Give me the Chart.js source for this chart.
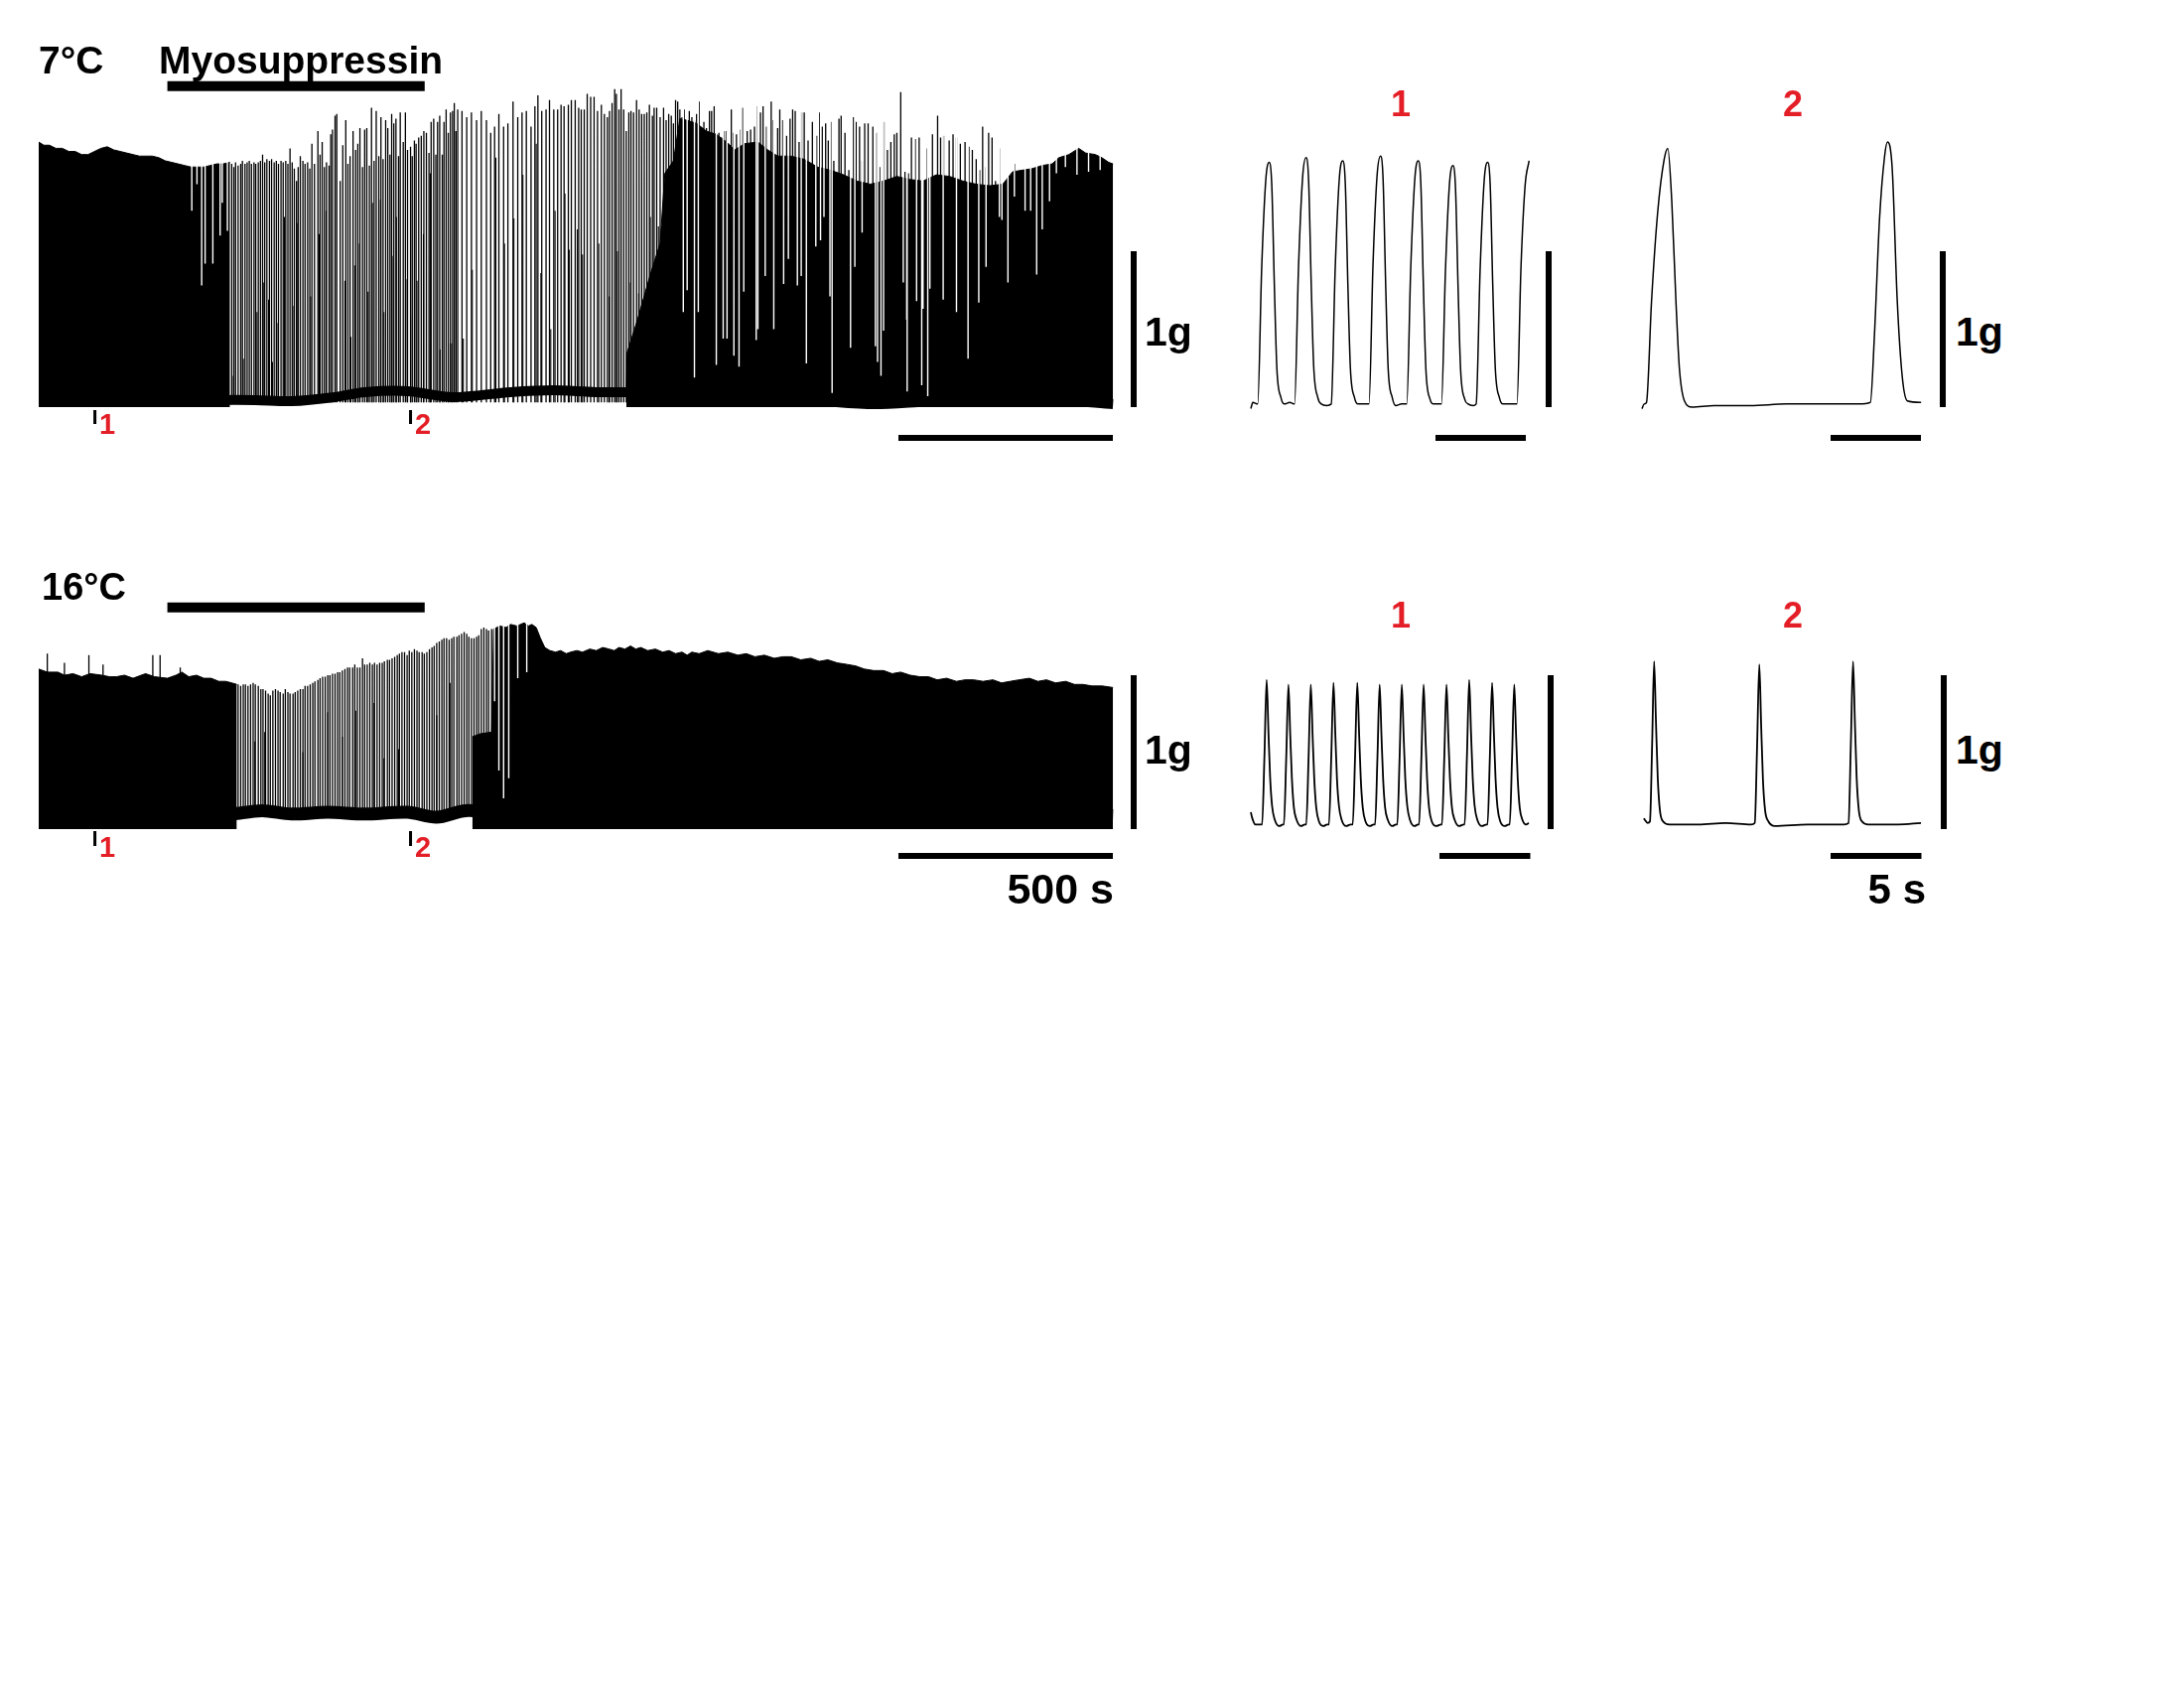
<!DOCTYPE html>
<html><head><meta charset="utf-8">
<script src="https://cdn.jsdelivr.net/npm/chart.js@4.4.1/dist/chart.umd.min.js"></script>
<style>
html,body{margin:0;padding:0;background:#fff;}
#page{position:relative;width:2200px;height:1700px;background:#fff;overflow:hidden;font-family:"Liberation Sans",Arial,sans-serif;font-weight:bold;}
canvas{position:absolute;}
.t{position:absolute;white-space:nowrap;line-height:1;color:#000;}
.r{color:#e41e26;}
.c{width:100px;text-align:center;}
</style></head><body><div id="page">
<canvas id="long7"></canvas><canvas id="long16"></canvas>
<canvas id="in7a"></canvas><canvas id="in7b"></canvas>
<canvas id="in16a"></canvas><canvas id="in16b"></canvas>
<div class="t" style="left:39px;top:41px;font-size:39px">7°C</div>
<div class="t" style="left:160px;top:41px;font-size:39px">Myosuppressin</div>
<div class="t" style="left:42px;top:572px;font-size:38px">16°C</div>
<div class="t" style="left:1153px;top:314px;font-size:41px">1g</div>
<div class="t" style="left:1153px;top:735px;font-size:41px">1g</div>
<div class="t" style="left:1970px;top:314px;font-size:41px">1g</div>
<div class="t" style="left:1970px;top:735px;font-size:41px">1g</div>
<div class="t" style="right:1078px;top:874px;font-size:43px">500 s</div>
<div class="t" style="right:260px;top:875px;font-size:42px">5 s</div>
<div class="t r c" style="left:1361px;top:87px;font-size:36px">1</div>
<div class="t r c" style="left:1756px;top:87px;font-size:36px">2</div>
<div class="t r c" style="left:1361px;top:602px;font-size:36px">1</div>
<div class="t r c" style="left:1756px;top:602px;font-size:36px">2</div>
<div class="t r" style="left:100px;top:413px;font-size:29px">1</div>
<div class="t r" style="left:418px;top:413px;font-size:29px">2</div>
<div class="t r" style="left:100px;top:839px;font-size:29px">1</div>
<div class="t r" style="left:418px;top:839px;font-size:29px">2</div>
</div>
<script>
// ===================== DATA (time in s, force in g) =====================
const drugT = [300, 900];            // myosuppressin application
const markerT = [131, 867];          // times of insets 1 and 2
const scaleG = 1, scaleLongS = 500, scaleInsetS = 5;

// ---- 7 °C long trace ----
const base7T = [0,80,165,250,320,420,505,590,690,760,860,965,1100,1200,1300,1440,1525,1605,1745,1860,1950,2050,2115,2250,2370,2505];
const base7G = [0.085,0.064,0.077,0.045,0.032,0.045,0.045,0.038,0.064,0.096,0.102,0.064,0.096,0.108,0.096,0.096,0.102,0.083,0.064,0.032,0.019,0.032,0.045,0.032,0.045,0.019];
const envA7T = [0,12,25,40,55,70,85,100,115,130,145,160,175,190,205,220,235,250,265,280,295,310,325,340,355,370,385,400,415,430,446];
const envA7G = [1.70,1.68,1.68,1.66,1.66,1.64,1.64,1.62,1.62,1.64,1.66,1.67,1.65,1.64,1.63,1.62,1.61,1.61,1.61,1.60,1.58,1.57,1.56,1.55,1.54,1.54,1.54,1.55,1.56,1.56,1.57];
const envC7T = [1370,1372,1395,1426,1449,1460,1480,1495,1511,1534,1557,1580,1604,1623,1646,1677,1700,1723,1754,1785,1816,1846,1877,1908,1939,1970,2001,2032,2062,2093,2124,2155,2186,2217,2248,2271,2294,2317,2340,2363,2379,2402,2425,2441,2464,2479,2495,2505];
const envC7G = [0.10,0.35,0.55,0.85,1.05,1.50,1.58,1.85,1.84,1.82,1.77,1.75,1.70,1.65,1.69,1.70,1.65,1.61,1.61,1.59,1.54,1.52,1.49,1.45,1.43,1.45,1.48,1.46,1.45,1.49,1.48,1.45,1.43,1.42,1.43,1.51,1.52,1.53,1.55,1.56,1.60,1.62,1.66,1.63,1.62,1.60,1.57,1.56];
const spike7T = [450,455,459,465,471,475,481,486,491,496,502,506,512,517,522,527,532,538,543,549,554,559,565,570,576,581,586,591,596,601,605,610,616,621,627,632,637,643,651,656,661,666,671,677,681,685,691,695,703,709,716,721,726,733,739,744,749,755,760,765,771,776,782,787,793,798,803,809,814,819,823,828,833,839,843,850,855,860,867,871,876,880,886,892,898,904,910,915,921,926,930,935,941,945,950,955,960,965,969,973,
977,987,998,1009,1021,1032,1044,1054,1063,1073,1084,1094,1106,1117,1127,1137,1148,1157,1164,1173,1183,1191,1201,1210,1218,1225,1235,1242,1251,1259,1265,1272,1279,1287,1295,1303,1312,1319,1326,1331,1337,1343,1347,1353,1358,1364,1370,1376,1381,1387,1394,1400,1406,1412,1418,1424,1431,1435,1441,1449,1457,1463,1469,1475,1480,1485,1490,1495,1500,1505,1511,1517,1523,1529,1534,1540,1546,1551,1557,1564,1569,1575,1580,1586,1592,1597,
1603,1609,1615,1620,1627,1634,1642,1652,1660,1669,1674,1683,1689,1696,1708,1713,1723,1728,1735,1744,1752,1758,1764,1773,1779,1785,1794,1804,1814,1821,1827,1835,1841,1848,1854,1866,1871,1880,1889,1900,1906,1914,1920,1926,1934,1945,1954,1962,1971,1979,1987,1995,2001,2010,2020,2028,2035,2045,2053,2061,2072,2084,2096,2103,2110,2123,2132,2140,2149,2160,2169,2177,2186,2194,2201,2209,2215,2223,2231,2240,2276];
const spike7G = [1.56,1.54,1.57,1.55,1.56,1.58,1.56,1.57,1.58,1.56,1.57,1.56,1.57,1.58,1.62,1.57,1.59,1.58,1.59,1.57,1.58,1.56,1.58,1.57,1.58,1.56,1.66,1.57,1.53,1.45,1.54,1.61,1.58,1.56,1.57,1.53,1.69,1.56,1.77,1.62,1.70,1.54,1.57,1.55,1.75,1.78,1.87,1.88,1.45,1.68,1.84,1.56,1.61,1.77,1.65,1.69,1.79,1.54,1.78,1.79,1.55,1.92,1.58,1.90,1.61,1.86,1.59,1.84,1.79,1.62,1.88,1.82,1.85,1.61,1.89,1.70,1.89,1.65,1.67,1.61,1.71,1.69,1.73,1.74,1.77,1.76,1.63,1.83,1.85,1.62,1.83,1.87,1.62,1.83,1.91,1.76,1.89,1.90,1.95,1.77,
1.91,1.90,1.86,1.89,1.84,1.90,1.84,1.76,1.80,1.88,1.80,1.82,1.96,1.86,1.89,1.90,1.80,1.93,2.00,1.90,1.91,1.97,1.91,1.91,1.94,1.93,1.94,1.97,1.97,1.92,1.91,1.91,2.01,1.99,1.99,1.90,1.94,1.88,1.86,1.90,1.95,2.04,2.01,1.91,2.04,1.91,1.77,1.89,1.90,1.89,1.97,1.91,1.88,1.88,1.89,1.94,1.87,1.92,1.92,1.86,1.92,1.84,1.88,1.87,1.82,1.97,1.96,1.91,1.86,1.91,1.83,1.90,1.86,1.84,1.88,1.96,1.79,1.83,1.79,1.90,1.90,1.93,1.75,1.76,1.73,1.77,
1.77,1.69,1.91,1.76,1.75,1.78,1.92,1.77,1.78,1.80,1.93,1.89,1.93,1.80,1.96,1.84,1.79,1.91,1.84,1.74,1.85,1.91,1.90,1.70,1.89,1.89,1.71,1.83,1.74,1.89,1.80,1.82,1.71,1.83,1.58,1.85,1.87,1.76,1.52,1.86,1.83,1.80,1.58,1.82,1.82,1.80,1.76,1.54,1.83,1.65,1.70,1.75,1.76,2.02,1.51,1.50,1.73,1.72,1.73,1.65,1.66,1.75,1.87,1.73,1.74,1.71,1.75,1.73,1.69,1.70,1.67,1.65,1.59,1.52,1.80,1.54,1.76,1.73,1.45,1.66,1.56];
const short7T = [454,477,509,525,536,545,558,573,595,604,634,654,670,714,728,737,745,768,778,797,805,824,834,859,867,882,897,913,936,955,963,990,1011,1066,1086,1108,1129,1160,1171,1194,1204,1227,1237,1256,1268,1306,1330,1349,1380,1399,1426,1445];
const short7G = [0.20,0.31,0.61,0.80,0.69,0.29,0.54,1.22,0.65,1.18,0.71,1.11,1.26,0.81,0.45,0.91,1.05,0.74,1.31,1.33,0.61,0.97,1.22,0.82,0.58,0.81,1.11,1.50,0.37,0.41,0.41,0.44,0.88,1.60,1.05,1.21,1.49,1.69,0.86,0.50,1.26,1.37,1.01,1.14,0.98,1.05,0.71,1.00,0.80,0.73,1.22,1.16];
const gap7T = [357,369,380,388,406,423,428,440,1503,1512,1529,1538,1580,1596,1605,1621,1633,1644,1673,1677,1694,1714,1737,1748,1769,1778,1790,1812,1823,1831,1845,1850,1893,1903,1920,1951,1956,1964,1970,2016,2024,2025,2047,2059,2062,2073,2078,2109,2140,2167,2192,2209,2240,2246,2260,2275,2300,2313,2327,2340,2357,2373,2394,2421,2448,2475];
const gap7G = [1.26,1.43,0.78,0.92,0.92,1.10,1.31,1.13,0.61,0.75,0.19,0.61,0.27,0.44,0.44,0.33,0.26,0.74,0.43,0.50,0.84,0.50,0.79,0.95,0.78,0.84,0.28,1.03,1.07,1.22,0.71,0.09,0.38,0.90,1.12,0.39,0.29,0.20,0.49,0.80,0.56,0.10,0.68,0.14,0.63,0.07,0.76,0.69,0.61,0.31,0.67,0.90,1.22,1.20,0.80,1.35,1.26,1.26,0.85,1.14,1.32,1.50,1.54,1.49,1.51,1.52];

// ---- 16 °C long trace ----
const base16T = [0,79,130,181,249,317,385,453,521,589,674,759,860,928,996,1098,1200,1268,1353,1438,1523,1607,1692,1777,1828,1879,1947,2032,2117,2202,2286,2371,2505];
const base16G = [0.087,0.066,0.077,0.098,0.087,0.109,0.077,0.098,0.120,0.098,0.109,0.098,0.109,0.077,0.120,0.098,0.077,0.109,0.098,0.087,0.098,0.109,0.098,0.120,0.141,0.109,0.098,0.087,0.098,0.077,0.066,0.098,0.087];
const envA16T = [0,20,45,60,80,100,120,147,165,181,200,220,249,270,300,320,334,350,368,385,402,420,436,450,462];
const envA16G = [1.04,1.02,1.02,1.00,1.01,0.99,1.01,1.00,0.99,0.99,1.00,0.98,1.01,0.99,0.98,1.00,1.02,0.99,1.00,0.98,0.98,0.96,0.96,0.95,0.94];
const envC16T = [1011,1030,1056,1061,1075,1090,1100,1115,1132,1142,1150,1160,1170,1180,1192,1205,1217,1230,1240,1255,1268,1285,1300,1315,1330,1342,1353,1367,1380,1392,1404,1420,1438,1455,1470,1485,1500,1512,1523,1540,1560,1585,1607,1630,1650,1670,1692,1715,1735,1755,1777,1800,1820,1840,1862,1885,1905,1925,1947,1970,1990,2010,2032,2055,2075,2095,2117,2140,2160,2180,2202,2225,2245,2265,2286,2310,2330,2350,2371,2395,2415,2435,2456,2480,2505];
const envC16G = [0.60,0.62,0.63,1.30,1.32,1.31,1.33,1.32,1.34,1.32,1.33,1.31,1.24,1.18,1.16,1.15,1.16,1.14,1.15,1.16,1.15,1.17,1.16,1.18,1.17,1.16,1.18,1.17,1.19,1.17,1.18,1.16,1.17,1.15,1.16,1.14,1.15,1.13,1.15,1.14,1.16,1.14,1.15,1.13,1.14,1.12,1.13,1.11,1.12,1.12,1.10,1.11,1.09,1.10,1.08,1.07,1.06,1.04,1.03,1.03,1.01,1.02,1.00,0.99,0.99,0.97,0.98,0.96,0.97,0.97,0.96,0.97,0.95,0.96,0.97,0.98,0.96,0.97,0.95,0.96,0.94,0.94,0.93,0.93,0.92];
const spike16T = [20,60,117,150,266,283,330,465,471,477,482,488,494,500,505,512,518,523,529,535,540,546,552,558,563,570,575,581,586,593,598,604,610,616,621,627,633,639,644,651,656,662,668,674,679,685,691,697,702,708,714,720,725,732,737,743,749,755,760,766,772,778,783,789,795,801,806,813,818,824,830,836,841,847,853,859,864,870,876,882,887,894,899,905,911,917,922,928,934,940,945,951,957,963,968,975,980,986,992,998,1003,1009,1015,1021,1026,1032,1038,1044,1049,1056,1061];
const spike16G = [1.14,1.08,1.13,1.07,1.13,1.13,1.05,0.94,0.93,0.94,0.94,0.93,0.94,0.95,0.94,0.93,0.91,0.91,0.90,0.88,0.87,0.90,0.91,0.90,0.89,0.88,0.91,0.89,0.88,0.88,0.89,0.90,0.91,0.91,0.93,0.93,0.94,0.95,0.96,0.97,0.98,0.99,0.99,1.00,1.00,1.01,1.01,1.02,1.02,1.03,1.04,1.05,1.05,1.05,1.07,1.05,1.05,1.11,1.07,1.07,1.08,1.07,1.08,1.07,1.08,1.08,1.09,1.10,1.10,1.11,1.12,1.13,1.14,1.15,1.15,1.13,1.16,1.15,1.17,1.16,1.15,1.15,1.14,1.15,1.17,1.18,1.19,1.21,1.22,1.23,1.24,1.24,1.23,1.24,1.25,1.25,1.26,1.27,1.28,1.27,1.25,1.24,1.24,1.25,1.26,1.30,1.31,1.30,1.29,1.30,1.30];
const short16T = [504,527,616,674,708,739,782,805,839,928,959];
const short16G = [0.57,0.63,0.50,0.76,0.60,0.77,0.82,0.46,0.52,0.74,0.95];
const gap16T = [1063,1073,1084,1096,1117,1138];
const gap16G = [0.83,0.38,0.20,0.33,0.98,1.02];

// ---- insets (time from start of excerpt, s) ----
const in7aT = [0.00,0.11,0.38,0.60,0.83,1.02,1.16,1.30,1.44,1.67,1.86,2.15,2.42,2.64,2.87,3.06,3.20,3.34,3.48,3.71,3.90,4.20,4.45,4.67,4.90,5.09,5.23,5.37,5.51,5.74,5.93,6.25,6.54,6.76,6.99,7.18,7.32,7.46,7.60,7.83,8.02,8.35,8.63,8.85,9.08,9.27,9.41,9.55,9.69,9.92,10.11,10.35,10.55,10.77,11.00,11.19,11.33,11.47,11.61,11.84,12.03,12.30,12.47,12.69,12.92,13.11,13.25,13.39,13.53,13.76,13.95,14.45,14.73,14.95,15.18,15.40];
const in7aG = [-0.01,0.03,0.02,0.89,1.46,1.57,1.42,0.79,0.25,0.06,0.02,0.03,0.02,0.90,1.48,1.60,1.45,0.80,0.26,0.06,0.02,0.01,0.02,0.89,1.47,1.58,1.43,0.79,0.25,0.06,0.02,0.02,0.02,0.91,1.49,1.61,1.46,0.80,0.25,0.06,0.01,0.02,0.02,0.89,1.47,1.58,1.43,0.78,0.24,0.05,0.02,0.02,0.02,0.87,1.44,1.55,1.40,0.77,0.24,0.05,0.02,0.01,0.02,0.88,1.46,1.57,1.42,0.78,0.25,0.06,0.02,0.02,0.02,0.89,1.42,1.58];
const in7bT = [0.00,0.12,0.25,0.53,0.87,1.23,1.43,1.65,1.88,2.07,2.35,2.77,4.00,6.00,8.00,10.00,12.00,12.64,12.87,13.15,13.43,13.59,13.85,14.13,14.41,14.69,15.45];
const in7bG = [-0.01,0.02,0.03,0.68,1.25,1.59,1.66,1.32,0.68,0.25,0.04,0.00,0.01,0.01,0.02,0.02,0.02,0.03,0.47,1.21,1.61,1.70,1.53,0.68,0.19,0.04,0.03];
const in16aT = [0.00,0.08,0.25,
0.62,0.75,0.87,0.97,1.06,1.17,1.32,1.57,1.77,
1.82,1.95,2.07,2.17,2.26,2.37,2.52,2.77,2.97,
3.05,3.18,3.30,3.40,3.49,3.60,3.75,4.00,4.20,
4.30,4.43,4.55,4.65,4.74,4.85,5.00,5.25,5.50,
5.61,5.74,5.86,5.96,6.05,6.16,6.31,6.56,6.76,
6.84,6.97,7.09,7.19,7.28,7.39,7.54,7.79,7.99,
8.06,8.19,8.31,8.41,8.50,8.61,8.76,9.01,9.21,
9.26,9.39,9.51,9.61,9.70,9.81,9.96,10.21,10.47,
10.52,10.65,10.77,10.87,10.96,11.07,11.22,11.47,11.72,
11.77,11.90,12.02,12.12,12.21,12.32,12.47,12.72,12.98,
13.03,13.16,13.28,13.38,13.47,13.58,13.73,13.98,14.20,
14.25,14.38,14.50,14.60,14.69,14.80,14.95,15.15,15.30];
const in16aG = [0.11,0.07,0.03,
0.03,0.48,0.97,0.63,0.34,0.15,0.06,0.02,0.03,
0.03,0.47,0.94,0.61,0.33,0.14,0.06,0.02,0.03,
0.03,0.47,0.94,0.61,0.33,0.14,0.05,0.02,0.03,
0.03,0.48,0.95,0.62,0.33,0.15,0.06,0.02,0.03,
0.03,0.48,0.95,0.62,0.33,0.14,0.05,0.02,0.03,
0.03,0.47,0.94,0.61,0.33,0.14,0.06,0.02,0.03,
0.03,0.47,0.94,0.61,0.33,0.15,0.06,0.02,0.03,
0.03,0.47,0.94,0.61,0.33,0.14,0.05,0.02,0.03,
0.03,0.47,0.94,0.61,0.33,0.14,0.06,0.02,0.03,
0.03,0.49,0.97,0.63,0.34,0.15,0.06,0.02,0.03,
0.03,0.48,0.95,0.62,0.33,0.14,0.05,0.02,0.03,
0.03,0.47,0.94,0.61,0.33,0.14,0.06,0.03,0.04];
const in16bT = [0.00,0.05,0.20,0.33,0.45,0.56,0.66,0.76,0.88,1.05,1.40,3.00,4.50,5.90,6.10,6.23,6.35,6.45,6.55,6.67,6.85,7.20,9.00,11.00,11.26,11.39,11.51,11.61,11.71,11.83,12.00,12.35,14.00,15.25];
const in16bG = [0.07,0.06,0.04,0.05,0.55,1.09,0.70,0.33,0.12,0.05,0.03,0.03,0.04,0.03,0.04,0.55,1.07,0.68,0.32,0.12,0.05,0.02,0.03,0.03,0.04,0.56,1.09,0.70,0.33,0.12,0.05,0.03,0.03,0.04];

// ===================== LAYOUT (pixels) =====================
const FR = {
  long7:  {left:39,   top:60,  w:1181, h:400, x0:39,   y0:410, sx:0.432, sy:157, vbar:1142, hbar:905,  hy:441, tick:[413,427], drugY:86.7},
  long16: {left:39,   top:590, w:1181, h:300, x0:39,   y0:835, sx:0.432, sy:155, vbar:1142, hbar:905,  hy:862, tick:[837,852], drugY:611.7},
  in7a:   {left:1250, top:120, w:330,  h:340, x0:1260, y0:410, sx:18.2,  sy:157, vbar:1560, hbar:1446, hy:441},
  in7b:   {left:1640, top:120, w:330,  h:340, x0:1654, y0:410, sx:18.2,  sy:157, vbar:1957, hbar:1844, hy:441},
  in16a:  {left:1250, top:600, w:330,  h:290, x0:1260, y0:835, sx:18.3,  sy:155, vbar:1562, hbar:1450, hy:862},
  in16b:  {left:1640, top:600, w:330,  h:290, x0:1656, y0:835, sx:18.3,  sy:155, vbar:1958, hbar:1844, hy:862}
};
const dx = (f, px) => (px - f.x0) / f.sx;
const dy = (f, py) => (f.y0 - py) / f.sy;
const val = (a, i) => Array.isArray(a) ? a[i] : a;
const pts = (T, G) => T.map((t, i) => ({x: t, y: G[i]}));
function sticks(T, lo, hi) {
  const d = [];
  T.forEach((t, i) => { d.push({x: t, y: val(lo, i)}, {x: t, y: val(hi, i)}, {x: t, y: null}); });
  return d;
}
function line(data, o) {
  return Object.assign({type: 'line', data, borderColor: '#000', borderWidth: 1.4, pointRadius: 0,
    fill: false, tension: 0, spanGaps: false, clip: false, borderCapStyle: 'butt'}, o);
}
function scaleBars(f, lenX) {
  const vx = dx(f, f.vbar), hx = dx(f, f.hbar), hyv = dy(f, f.hy);
  return [
    line([{x: vx, y: 0}, {x: vx, y: scaleG}], {borderWidth: 6, order: 1}),
    line([{x: hx, y: hyv}, {x: hx + lenX, y: hyv}], {borderWidth: 6, order: 1})
  ];
}
function longExtras(f) {
  const yd = dy(f, f.drugY);
  return [
    line([{x: drugT[0], y: yd}, {x: drugT[1], y: yd}], {borderWidth: 10, order: 1}),
    line(sticks(markerT, dy(f, f.tick[0]), dy(f, f.tick[1])), {borderWidth: 3, order: 1})
  ];
}
function make(id, datasets) {
  const f = FR[id], cv = document.getElementById(id);
  cv.width = f.w; cv.height = f.h;
  cv.style.left = f.left + 'px'; cv.style.top = f.top + 'px';
  cv.style.width = f.w + 'px'; cv.style.height = f.h + 'px';
  new Chart(cv, {
    type: 'line',
    data: {datasets},
    options: {
      responsive: false, maintainAspectRatio: false, animation: false, devicePixelRatio: 1, events: [],
      layout: {padding: 0},
      plugins: {legend: {display: false}, tooltip: {enabled: false}},
      scales: {
        x: {type: 'linear', display: false, offset: false, min: dx(f, f.left), max: dx(f, f.left + f.w)},
        y: {type: 'linear', display: false, min: dy(f, f.top + f.h), max: dy(f, f.top)}
      }
    }
  });
}
const insetLine = (T, G, w) => line(pts(T, G), {borderWidth: w, cubicInterpolationMode: 'monotone', borderJoinStyle: 'round', order: 5});

// 7 °C long trace
make('long7', [
  line(pts(base7T, base7G), {borderWidth: 10, tension: 0.3, borderJoinStyle: 'round', order: 9}),
  line(pts(envA7T, envA7G), {fill: 'origin', backgroundColor: '#000', borderWidth: 1, order: 8}),
  line(pts(envC7T, envC7G), {fill: 'origin', backgroundColor: '#000', borderWidth: 1, order: 8}),
  line(sticks(short7T, 0.03, short7G), {borderWidth: 1.1, order: 7}),
  line(sticks(spike7T, 0.03, spike7G), {borderWidth: 1.3, order: 6}),
  line(sticks(gap7T, gap7G, 2.2), {borderColor: '#fff', borderWidth: 1.4, order: 5}),
  ...longExtras(FR.long7),
  ...scaleBars(FR.long7, scaleLongS)
]);
// 16 °C long trace
make('long16', [
  line(pts(base16T, base16G), {borderWidth: 13, tension: 0.3, borderJoinStyle: 'round', order: 9}),
  line(pts(envA16T, envA16G), {fill: 'origin', backgroundColor: '#000', borderWidth: 1, order: 8}),
  line(pts(envC16T, envC16G), {fill: 'origin', backgroundColor: '#000', borderWidth: 1, order: 8}),
  line(sticks(short16T, 0.09, short16G), {borderWidth: 1.1, order: 7}),
  line(sticks(spike16T, 0.09, spike16G), {borderWidth: 1.3, order: 6}),
  line(sticks(gap16T, gap16G, 1.4), {borderColor: '#fff', borderWidth: 1.4, order: 5}),
  ...longExtras(FR.long16),
  ...scaleBars(FR.long16, scaleLongS)
]);
// insets
make('in7a', [insetLine(in7aT, in7aG, 1.5), ...scaleBars(FR.in7a, scaleInsetS)]);
make('in7b', [insetLine(in7bT, in7bG, 1.5), ...scaleBars(FR.in7b, scaleInsetS)]);
make('in16a', [insetLine(in16aT, in16aG, 1.8), ...scaleBars(FR.in16a, scaleInsetS)]);
make('in16b', [insetLine(in16bT, in16bG, 1.8), ...scaleBars(FR.in16b, scaleInsetS)]);
</script>
</body></html>
